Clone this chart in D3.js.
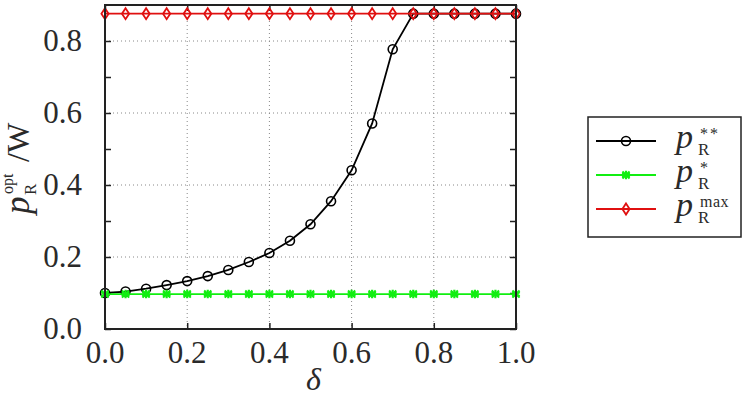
<!DOCTYPE html>
<html>
<head>
<meta charset="utf-8">
<script src="https://cdn.jsdelivr.net/npm/d3@7"></script>
</head>
<body style="margin:0">
<svg id="chart" width="746" height="396"></svg>
<script>
// delta values, one every 0.05
const deltas = [0, 0.05, 0.1, 0.15, 0.2, 0.25, 0.3, 0.35, 0.4, 0.45, 0.5,
                0.55, 0.6, 0.65, 0.7, 0.75, 0.8, 0.85, 0.9, 0.95, 1.0];
// p_R** (black, circles)
const pStarStar = [0.100, 0.104, 0.112, 0.122, 0.133, 0.147, 0.164, 0.186, 0.211, 0.245, 0.291,
                   0.355, 0.441, 0.571, 0.777, 0.876, 0.876, 0.876, 0.876, 0.876, 0.876];
// p_R* (green, asterisks)
const pStar = [0.097, 0.097, 0.097, 0.097, 0.097, 0.097, 0.097, 0.097, 0.097, 0.097, 0.097,
               0.097, 0.097, 0.097, 0.097, 0.097, 0.097, 0.097, 0.097, 0.097, 0.097];
// p_R max (red, diamonds)
const pMax = [0.876, 0.876, 0.876, 0.876, 0.876, 0.876, 0.876, 0.876, 0.876, 0.876, 0.876,
              0.876, 0.876, 0.876, 0.876, 0.876, 0.876, 0.876, 0.876, 0.876, 0.876];

const xTicks = [0, 0.2, 0.4, 0.6, 0.8, 1.0];
const yTicks = [0, 0.2, 0.4, 0.6, 0.8];
const yMinorTicks = [0.1, 0.3, 0.5, 0.7];
const legendSups = ["**", "*", "max"];

const svg = d3.select("#chart");
const mLeft = 105, mTop = 5, width = 411, height = 324;

// all text goes straight onto the svg, same way as the font test that worked
function txt(str, px, py, size, italic) {
  const t = svg.append("text").attr("x", px).attr("y", py).attr("font-size", size)
    .style("font-family", '"Liberation Serif"').attr("fill", "#2a2a2a").text(str);
  if (italic) t.attr("font-style", "italic");
  return t;
}

const x = d3.scaleLinear().domain([0, 1]).range([mLeft, mLeft + width]);
const y = d3.scaleLinear().domain([0, 0.9]).range([mTop + height, mTop]);

// grid
svg.selectAll(".gx").data(xTicks.slice(1, -1)).enter().append("line")
  .attr("x1", d => x(d)).attr("x2", d => x(d)).attr("y1", mTop).attr("y2", mTop + height)
  .attr("stroke", "#888").attr("stroke-width", 1).attr("stroke-dasharray", "1,3");
svg.selectAll(".gy").data(yTicks.slice(1)).enter().append("line")
  .attr("x1", mLeft).attr("x2", mLeft + width).attr("y1", d => y(d)).attr("y2", d => y(d))
  .attr("stroke", "#888").attr("stroke-width", 1).attr("stroke-dasharray", "1,3");

// axes: ticks point inward, labels drawn separately
function styleAxis(sel) {
  sel.select(".domain").remove();
  sel.selectAll(".tick text").remove();
  sel.selectAll(".tick line").attr("stroke", "#222").attr("stroke-width", 1.5);
}
const yAll = yTicks.concat(yMinorTicks);
[
  svg.append("g").attr("transform", `translate(0,${mTop + height})`).call(d3.axisBottom(x).tickValues(xTicks).tickSizeInner(-6)),
  svg.append("g").attr("transform", `translate(0,${mTop})`).call(d3.axisTop(x).tickValues(xTicks).tickSizeInner(-6)),
  svg.append("g").attr("transform", `translate(${mLeft},0)`).call(d3.axisLeft(y).tickValues(yAll).tickSizeInner(-6)),
  svg.append("g").attr("transform", `translate(${mLeft + width},0)`).call(d3.axisRight(y).tickValues(yAll).tickSizeInner(-6))
].forEach(styleAxis);

const fmt = d3.format(".1f");
xTicks.forEach(d => {
  txt(fmt(d), x(d), mTop + height + 34, 31, false).attr("text-anchor", "middle");
});
yTicks.forEach(d => {
  txt(fmt(d), mLeft - 23, y(d) + 10, 31, false).attr("text-anchor", "end");
});

// lines
const line = d3.line().x(d => x(d[0])).y(d => y(d[1]));
const series = [
  { vals: pStarStar, color: "#000", marker: "circle" },
  { vals: pStar, color: "#11ee11", marker: "asterisk" },
  { vals: pMax, color: "#e01010", marker: "diamond" }
];

function drawMarker(sel, s) {
  if (s.marker === "circle") {
    sel.append("circle").attr("r", 4.5).attr("fill", "none").attr("stroke", s.color).attr("stroke-width", 1.6);
  } else if (s.marker === "asterisk") {
    sel.append("path").attr("d", d3.symbol(d3.symbolAsterisk, 50)()).attr("fill", "none")
      .attr("stroke", s.color).attr("stroke-width", 2.2);
    sel.append("path").attr("d", d3.symbol(d3.symbolTimes, 35)()).attr("fill", "none")
      .attr("stroke", s.color).attr("stroke-width", 2);
  } else {
    sel.append("path").attr("d", "M0,-5.5L3.6,0L0,5.5L-3.6,0Z").attr("fill", "none")
      .attr("stroke", s.color).attr("stroke-width", 1.8);
  }
}

series.forEach(s => {
  const pts = deltas.map((d, i) => [d, s.vals[i]]);
  svg.append("path").datum(pts).attr("d", line).attr("fill", "none")
    .attr("stroke", s.color).attr("stroke-width", 1.8);
  svg.selectAll(null).data(pts).enter().append("g")
    .attr("transform", d => `translate(${x(d[0])},${y(d[1])})`)
    .each(function() { drawMarker(d3.select(this), s); });
});

// frame
svg.append("rect").attr("x", mLeft).attr("y", mTop).attr("width", width).attr("height", height)
  .attr("fill", "none").attr("stroke", "#222").attr("stroke-width", 2);

// x title
txt("δ", mLeft + width / 2 + 3, 390, 32, true).attr("text-anchor", "middle");

// y title, rotated about its own anchor point
function rtxt(str, u, v, size, italic) {
  return txt(str, 29 + v, 214 - u, size, italic)
    .attr("transform", `rotate(-90,${29 + v},${214 - u})`);
}
rtxt("p", 0, 0, 35, true);
rtxt("R", 19, 7, 17, false);
rtxt("opt", 20, -16, 16, false);
rtxt("/W", 52, 0, 32, false);

// legend
const lx = 588, ly = 117;
svg.append("rect").attr("x", lx).attr("y", ly).attr("width", 153).attr("height", 120)
  .attr("fill", "#fff").attr("stroke", "#222").attr("stroke-width", 1.5);
series.forEach((s, i) => {
  const ry = ly + 24 + i * 34;
  svg.append("line").attr("x1", lx + 8).attr("x2", lx + 68).attr("y1", ry).attr("y2", ry)
    .attr("stroke", s.color).attr("stroke-width", 1.8);
  drawMarker(svg.append("g").attr("transform", `translate(${lx + 38},${ry})`), s);
  txt("p", lx + 88, ry + 7, 34, true);
  txt("R", lx + 110, ry + 14, 17, false);
  txt(legendSups[i], lx + 112, ry - 2, 16, false).attr("letter-spacing", i === 0 ? 2 : 0.5);
});
</script>
</body>
</html>
